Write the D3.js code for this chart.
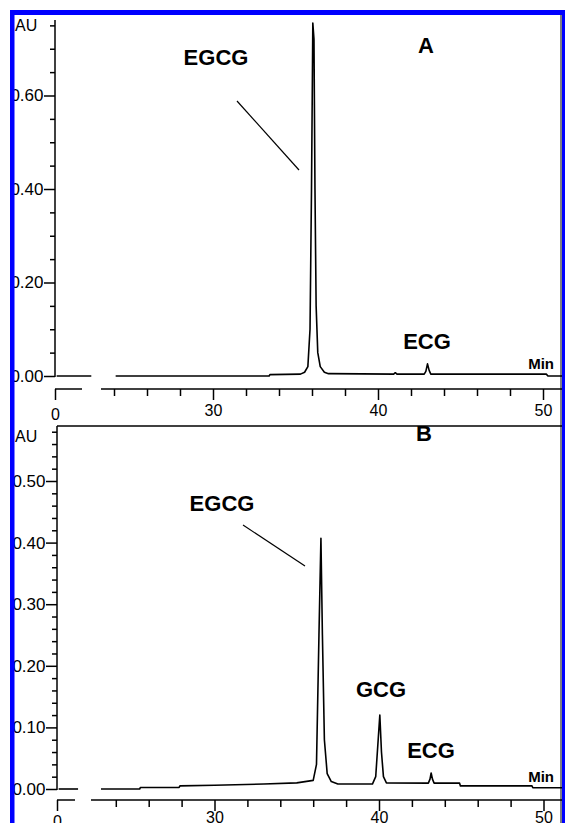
<!DOCTYPE html>
<html><head><meta charset="utf-8">
<script src="https://cdn.jsdelivr.net/npm/d3@7"></script>
<style>
html,body{margin:0;padding:0;background:#fff;}
svg{display:block;}
text{font-family:"Liberation Sans", Arial, sans-serif; fill:#000;}
</style></head><body>
<svg id="chart" width="565" height="823"></svg>
<script>
// ---- Panel A: retention time (min), absorbance (AU) ----
const leadA = [[0.1, 0], [2.2, 0]];
const traceA = [
  [24.1, 0], [33.4, 0], [33.45, 0.003], [35.3, 0.004], [35.55, 0.008], [35.75, 0.02],
  [35.88, 0.1], [35.97, 0.4], [36.05, 0.755], [36.12, 0.72], [36.18, 0.4],
  [36.25, 0.15], [36.35, 0.05], [36.5, 0.02], [36.75, 0.008], [37.0, 0.005],
  [40.95, 0.004], [41.05, 0.007], [41.15, 0.004], [42.8, 0.004], [42.9, 0.01],
  [43.0, 0.026], [43.1, 0.012], [43.2, 0.004], [50.2, 0.004], [50.3, 0], [51.3, 0]
];
const peaksA = [
  { name: "EGCG", t: 36.05 },
  { name: "ECG", t: 43.0 }
];
const yTicksA = [0, 0.05, 0.1, 0.15, 0.2, 0.25, 0.3, 0.35, 0.4, 0.45, 0.5, 0.55, 0.6, 0.65, 0.7, 0.75];
const yLabelsA = ["0.00", "0.20", "0.40", "0.60"];

// ---- Panel B ----
const leadB = [[0.1, 0], [1.28, 0]];
const traceB = [
  [23.1, 0], [25.45, 0], [25.5, 0.0025], [27.85, 0.0025], [27.9, 0.005], [30.0, 0.006],
  [33.0, 0.008], [35.0, 0.01], [36.0, 0.014], [36.2, 0.04], [36.35, 0.25],
  [36.47, 0.407], [36.56, 0.25], [36.68, 0.08], [36.85, 0.025], [37.1, 0.012],
  [37.5, 0.008], [39.6, 0.008], [39.8, 0.02], [39.95, 0.08], [40.05, 0.12],
  [40.15, 0.06], [40.27, 0.02], [40.45, 0.01], [43.0, 0.0095], [43.1, 0.016],
  [43.17, 0.026], [43.25, 0.016], [43.35, 0.0095], [44.9, 0.0095], [44.95, 0.005],
  [49.3, 0.005], [49.35, 0.002], [51.2, 0.002]
];
const peaksB = [
  { name: "EGCG", t: 36.47 },
  { name: "GCG", t: 40.05 },
  { name: "ECG", t: 43.17 }
];
const yTicksB = d3.range(0, 0.5801, 0.02);
const yLabelsB = ["0.00", "0.10", "0.20", "0.30", "0.40", "0.50"];

// ---- shared x-axis ticks ----
const xTicksMain = [24, 26, 28, 30, 32, 34, 36, 38, 40, 42, 44, 46, 48, 50];
const xLabels = ["0", "30", "40", "50"];

const svg = d3.select("#chart");
const INK = "#000";
const FONT = "Liberation Sans, Arial, sans-serif";

const panels = [
  {
    key: "A", lead: leadA, trace: traceA, peaks: peaksA, yTicks: yTicksA, yLabels: yLabelsA,
    axisX: 55, y0: 376, yTopPx: 20, yPerUnit: 467.5, xAxisY: 389,
    x40: 378, pxPerMin: 16.5, leadAxisEnd: 82, mainAxisStart: 101, xPad: 9,
    auY: 31, letterXY: [426, 53],
    labelPos: { EGCG: [216, 65], ECG: [427, 349] },
    leader: [[237, 101], [299, 170]]
  },
  {
    key: "B", lead: leadB, trace: traceB, peaks: peaksB, yTicks: yTicksB, yLabels: yLabelsB,
    axisX: 57, y0: 789, yTopPx: 426, yPerUnit: 616, xAxisY: 800,
    x40: 379, pxPerMin: 16.45, leadAxisEnd: 75, mainAxisStart: 91, xPad: 5,
    auY: 442, letterXY: [424, 441],
    labelPos: { EGCG: [222, 511], GCG: [381, 697], ECG: [431, 758] },
    leader: [[243, 525], [305, 566]]
  }
];

const RIGHT = 562;

panels.forEach(p => {
  const g = svg.append("g");
  const y = d3.scaleLinear().domain([0, 1]).range([p.y0, p.y0 - p.yPerUnit]);
  const xMain = d3.scaleLinear().domain([40, 50]).range([p.x40, p.x40 + 10 * p.pxPerMin]);
  const xLead = d3.scaleLinear().domain([0, 1]).range([p.axisX, p.axisX + p.pxPerMin]);
  const isYLabel = d => p.yLabels.includes(d.toFixed(2));

  // y axis: labelled ticks are longer than the minor ones
  const yAxis = d3.axisLeft(y)
    .tickValues(p.yTicks)
    .tickSize(5)
    .tickPadding(2)
    .tickFormat(d => isYLabel(d) ? d.toFixed(2) : "");
  const ya = g.append("g").attr("transform", `translate(${p.axisX},0)`).call(yAxis);
  ya.select(".domain").remove();
  ya.selectAll("line").attr("stroke", INK).attr("stroke-width", 1.5)
    .attr("x2", d => isYLabel(d) ? -11 : -5);
  ya.selectAll("text").attr("font-size", 17).attr("font-family", FONT).attr("fill", INK)
    .attr("x", -11.5);
  g.append("line").attr("x1", p.axisX).attr("x2", p.axisX)
    .attr("y1", p.yTopPx).attr("y2", p.y0 + 1)
    .attr("stroke", INK).attr("stroke-width", 1.5);
  g.append("text").attr("x", 15).attr("y", p.auY)
    .attr("text-anchor", "start").attr("font-size", 16).text("AU");

  // x axis (broken)
  g.append("line").attr("x1", p.axisX).attr("x2", p.leadAxisEnd)
    .attr("y1", p.xAxisY).attr("y2", p.xAxisY).attr("stroke", INK).attr("stroke-width", 1.5);
  g.append("line").attr("x1", p.mainAxisStart).attr("x2", RIGHT)
    .attr("y1", p.xAxisY).attr("y2", p.xAxisY).attr("stroke", INK).attr("stroke-width", 1.5);
  const xAxis = d3.axisBottom(xMain)
    .tickValues(xTicksMain)
    .tickSize(7)
    .tickPadding(p.xPad)
    .tickFormat(d => xLabels.includes(String(d)) ? String(d) : "");
  const xa = g.append("g").attr("transform", `translate(0,${p.xAxisY})`).call(xAxis);
  xa.select(".domain").remove();
  xa.selectAll("line").attr("stroke", INK).attr("stroke-width", 1.5)
    .attr("y2", d => xLabels.includes(String(d)) ? 11 : 7);
  xa.selectAll("text").attr("font-size", 16).attr("font-family", FONT).attr("fill", INK);
  // zero tick at the start of the lead-in segment
  const xa0 = g.append("g").attr("transform", `translate(0,${p.xAxisY})`)
    .call(d3.axisBottom(xLead).tickValues([0]).tickSize(11).tickPadding(p.xPad).tickFormat(() => xLabels[0]));
  xa0.select(".domain").remove();
  xa0.selectAll("line").attr("stroke", INK).attr("stroke-width", 1.5);
  xa0.selectAll("text").attr("font-size", 16).attr("font-family", FONT).attr("fill", INK);

  // traces
  const lineLead = d3.line().x(d => xLead(d[0])).y(d => y(d[1]));
  const lineMain = d3.line().x(d => xMain(d[0])).y(d => y(d[1]));
  g.append("path").attr("d", lineLead(p.lead)).attr("fill", "none").attr("stroke", INK).attr("stroke-width", 1.6);
  g.append("path").attr("d", lineMain(p.trace)).attr("fill", "none").attr("stroke", INK)
    .attr("stroke-width", 1.6).attr("stroke-linejoin", "round");

  // peak names
  p.peaks.forEach(pk => {
    const pos = p.labelPos[pk.name];
    g.append("text").attr("x", pos[0]).attr("y", pos[1]).attr("text-anchor", "middle")
      .attr("font-size", 22).attr("font-weight", "bold").text(pk.name);
  });
  g.append("line").attr("x1", p.leader[0][0]).attr("y1", p.leader[0][1])
    .attr("x2", p.leader[1][0]).attr("y2", p.leader[1][1])
    .attr("stroke", INK).attr("stroke-width", 1.2);

  // panel letter and time unit
  g.append("text").attr("x", p.letterXY[0]).attr("y", p.letterXY[1]).attr("text-anchor", "middle")
    .attr("font-size", 22).attr("font-weight", "bold").text(p.key);
  g.append("text").attr("x", 554).attr("y", p.xAxisY - (p.key === "A" ? 20 : 18)).attr("text-anchor", "end")
    .attr("font-size", 15).attr("font-weight", "bold").text("Min");
});

// frame of lower panel
svg.append("line").attr("x1", 57).attr("x2", RIGHT).attr("y1", 426).attr("y2", 426)
  .attr("stroke", INK).attr("stroke-width", 1.5);
svg.append("line").attr("x1", 561).attr("x2", 561).attr("y1", 15).attr("y2", 823)
  .attr("stroke", INK).attr("stroke-width", 1);

// blue border
svg.append("rect").attr("x", 10).attr("y", 10).attr("width", 555).attr("height", 5).attr("fill", "#0000ff");
svg.append("rect").attr("x", 10).attr("y", 10).attr("width", 4.5).attr("height", 813).attr("fill", "#0000ff");
svg.append("rect").attr("x", 562).attr("y", 10).attr("width", 3).attr("height", 813).attr("fill", "#0000ff");
</script>
</body></html>
